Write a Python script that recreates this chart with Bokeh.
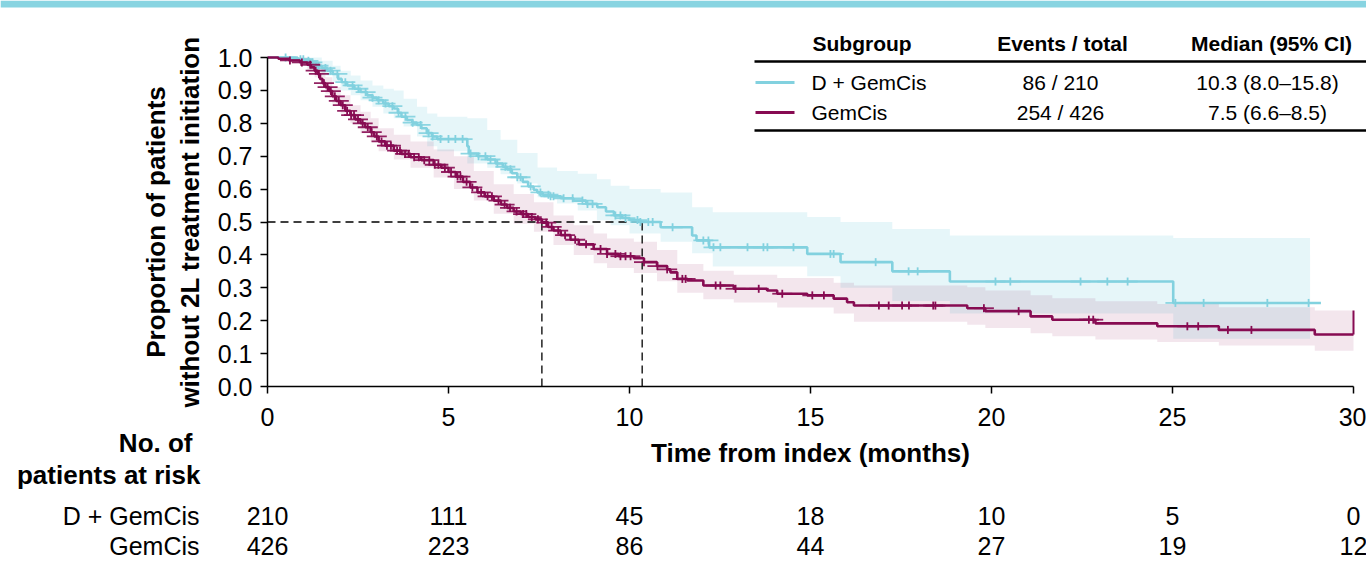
import numpy as np
from bokeh.plotting import figure
from bokeh.models import (Range1d, FixedTicker, Label, LabelSet, ColumnDataSource,
                          BoxAnnotation, PrintfTickFormatter)
from bokeh.core.properties import value
from bokeh.embed import file_html
from bokeh.resources import INLINE

# ------------------------------------------------------------------ data
groups = ["D + GemCis", "GemCis"]
events_total = ["86 / 210", "254 / 426"]
median_ci = ["10.3 (8.0\u201315.8)", "7.5 (6.6\u20138.5)"]
median_months = [10.35, 7.58]          # where the dashed median guides are drawn

# D + GemCis Kaplan-Meier steps (months, proportion)
dg_t = [0, 0.83, 1.0, 1.2, 1.35, 1.5, 1.65, 1.8, 1.95, 2.05, 2.2, 2.4, 2.57, 2.75, 2.9,
        3.03, 3.2, 3.35, 3.49, 3.6, 3.7, 3.85, 4.0, 4.13, 4.25, 4.4, 4.55, 4.69, 5.52,
        5.56, 5.8, 6.07, 6.3, 6.5, 6.62, 6.75, 6.9, 7.05, 7.2, 7.35, 7.45, 7.6, 7.82,
        8.1, 8.45, 8.8, 9.11, 9.35, 9.57, 9.8, 10.0, 10.3, 10.86, 11.73, 11.85, 12.2,
        14.91, 15.83, 17.26, 18.85, 25.02, 29.1]
dg_s = [1.0, 0.995, 0.99, 0.985, 0.975, 0.968, 0.96, 0.95, 0.935, 0.925, 0.915, 0.905,
        0.895, 0.885, 0.878, 0.87, 0.86, 0.852, 0.845, 0.832, 0.82, 0.81, 0.802, 0.795,
        0.785, 0.77, 0.76, 0.752, 0.73, 0.708, 0.7, 0.69, 0.678, 0.668, 0.66, 0.648,
        0.636, 0.622, 0.608, 0.598, 0.59, 0.583, 0.578, 0.572, 0.565, 0.555, 0.545,
        0.532, 0.52, 0.512, 0.506, 0.5, 0.484, 0.459, 0.444, 0.423, 0.403, 0.378, 0.35,
        0.319, 0.254, 0.254]
dg_ci_t = [0, 0.83, 1.2, 1.5, 1.8, 2.02, 2.3, 2.57, 2.9, 3.2, 3.49, 3.76, 4.13, 4.41,
           4.69, 5.52, 6.07, 6.44, 6.9, 7.46, 8.0, 8.57, 9.1, 9.48, 10.0, 10.86, 11.73,
           12.3, 14.91, 15.83, 17.26, 18.85, 25.02, 28.8]
dg_ci_lo = [1.0, 0.985, 0.965, 0.945, 0.925, 0.9, 0.885, 0.87, 0.85, 0.83, 0.815, 0.79,
            0.76, 0.73, 0.715, 0.678, 0.665, 0.645, 0.617, 0.575, 0.556, 0.535, 0.505,
            0.49, 0.465, 0.44, 0.405, 0.365, 0.335, 0.30, 0.26, 0.222, 0.145, 0.145]
dg_ci_hi = [1.0, 1.0, 1.0, 0.99, 0.975, 0.96, 0.945, 0.93, 0.915, 0.905, 0.90, 0.875,
            0.85, 0.83, 0.82, 0.815, 0.78, 0.75, 0.71, 0.666, 0.655, 0.647, 0.63, 0.61,
            0.60, 0.59, 0.545, 0.53, 0.515, 0.50, 0.479, 0.459, 0.451, 0.451]
dg_cens = [0.50, 0.91, 0.99, 1.13, 1.24, 1.41, 1.60, 1.74, 1.93, 2.15, 2.35, 2.51, 2.71,
           2.90, 3.07, 3.26, 3.45, 3.62, 3.81, 4.01, 4.23, 4.45, 4.56, 4.78, 5.00, 5.19,
           5.39, 5.61, 5.83, 6.02, 6.16, 6.35, 6.57, 6.71, 6.90, 6.99, 7.27, 7.54, 7.76,
           7.82, 7.90, 8.18, 8.43, 8.70, 8.84, 8.98, 9.61, 9.75, 9.89, 10.22, 10.30,
           10.52, 10.64, 11.19, 12.04, 12.18, 12.32, 12.51, 13.26, 13.70, 13.81, 14.53,
           15.55, 15.64, 16.80, 17.71, 17.96, 20.11, 20.52, 22.46, 23.20, 23.76, 25.08,
           25.86, 27.62, 28.76]

# GemCis Kaplan-Meier steps
gc_t = [0, 0.3, 0.6, 0.9, 1.1, 1.2, 1.3, 1.38, 1.45, 1.52, 1.6, 1.7, 1.79, 1.9, 2.02,
        2.15, 2.29, 2.42, 2.57, 2.7, 2.85, 2.95, 3.07, 3.25, 3.49, 3.7, 3.95, 4.25, 4.59,
        4.8, 5.0, 5.2, 5.4, 5.6, 5.8, 6.0, 6.25, 6.45, 6.62, 6.8, 7.0, 7.2, 7.4, 7.58,
        7.75, 7.9, 8.1, 8.37, 8.6, 9.01, 9.38, 9.7, 10.12, 10.4, 10.76, 11.04, 11.13,
        11.32, 11.6, 12.04, 12.88, 13.8, 14.08, 14.91, 15.64, 16.01, 16.2, 19.33, 19.83,
        21.08, 21.68, 22.87, 24.58, 26.28, 28.93, 30.0]
gc_s = [1.0, 0.996, 0.991, 0.985, 0.978, 0.97, 0.96, 0.95, 0.935, 0.922, 0.91, 0.898,
        0.882, 0.868, 0.855, 0.838, 0.825, 0.812, 0.8, 0.788, 0.773, 0.76, 0.745, 0.732,
        0.717, 0.707, 0.697, 0.688, 0.674, 0.665, 0.652, 0.638, 0.622, 0.605, 0.59,
        0.578, 0.565, 0.553, 0.543, 0.532, 0.524, 0.515, 0.508, 0.498, 0.485, 0.474,
        0.46, 0.446, 0.432, 0.418, 0.403, 0.396, 0.39, 0.378, 0.366, 0.356, 0.347,
        0.327, 0.322, 0.307, 0.297, 0.292, 0.282, 0.277, 0.267, 0.256, 0.246, 0.238,
        0.229, 0.213, 0.203, 0.192, 0.183, 0.172, 0.158, 0.158]
gc_ci_t = [0, 0.6, 1.1, 1.3, 1.45, 1.6, 1.79, 2.02, 2.29, 2.57, 2.85, 3.07, 3.49, 3.95,
           4.59, 5.15, 5.7, 6.25, 6.8, 7.36, 7.9, 8.46, 9.01, 9.38, 10.12, 10.76, 11.32,
           12.04, 12.88, 14.08, 15.64, 16.2, 19.33, 19.83, 21.08, 21.68, 22.87, 24.58,
           26.28, 28.93, 30.0]
gc_ci_lo = [1.0, 0.982, 0.962, 0.94, 0.915, 0.89, 0.86, 0.83, 0.80, 0.77, 0.745, 0.715,
            0.69, 0.665, 0.635, 0.60, 0.565, 0.525, 0.495, 0.47, 0.43, 0.40, 0.375,
            0.36, 0.345, 0.32, 0.285, 0.265, 0.255, 0.24, 0.222, 0.197, 0.188, 0.178,
            0.162, 0.153, 0.143, 0.135, 0.125, 0.109, 0.109]
gc_ci_hi = [1.0, 1.0, 0.992, 0.98, 0.965, 0.94, 0.91, 0.885, 0.855, 0.835, 0.815, 0.785,
            0.765, 0.745, 0.72, 0.70, 0.655, 0.615, 0.585, 0.56, 0.52, 0.49, 0.465,
            0.45, 0.44, 0.415, 0.372, 0.352, 0.34, 0.33, 0.315, 0.307, 0.302, 0.292,
            0.277, 0.268, 0.259, 0.251, 0.241, 0.231, 0.231]
gc_cens = [0.62, 0.95, 1.18, 1.33, 1.42, 1.56, 1.66, 1.75, 1.86, 1.97, 2.08, 2.2, 2.31,
           2.39, 2.5, 2.63, 2.77, 2.88, 3.02, 3.15, 3.3, 3.41, 3.58, 3.66, 3.8, 3.9,
           4.05, 4.18, 4.33, 4.47, 4.62, 4.72, 4.9, 5.07, 5.25, 5.33, 5.5, 5.66, 5.9,
           6.08, 6.2, 6.38, 6.55, 6.7, 6.88, 7.06, 7.15, 7.3, 7.47, 7.7, 7.85, 8.03,
           8.22, 8.5, 8.8, 9.2, 9.38, 9.61, 9.75, 9.89, 10.03, 10.4, 10.77, 11.04, 11.46,
           11.55, 12.38, 12.51, 12.93, 13.57, 14.22, 15.05, 15.37, 16.89, 17.16, 17.53,
           17.72, 18.39, 18.45, 19.79, 20.75, 22.69, 22.81, 25.41, 25.71, 26.53, 27.18]
gc_end_t = [30.0]
gc_end_lo = [0.158]
gc_end_hi = [0.231]

x_ticks = [0, 5, 10, 15, 20, 25, 30]
y_ticks = [0.0, 0.1, 0.2, 0.3, 0.4, 0.5, 0.6, 0.7, 0.8, 0.9, 1.0]
risk_months = [0, 5, 10, 15, 20, 25, 30]
risk_dg = [210, 111, 45, 18, 10, 5, 0]
risk_gc = [426, 223, 86, 44, 27, 19, 12]

# ------------------------------------------------------------------ style / layout
CYAN = "#82D1DF"
STRIPE = "#88D4E1"
MAROON = "#870B52"
FONT = "Liberation Sans"

W, H = 1366, 561
X0, PXM = 267, 36.2          # page x of month 0, pixels per month
Y0, PXU = 386, 329.0         # page y of proportion 0, pixels per unit


def dx(px):
    return (px - X0) / PXM


def dy(py):
    return (Y0 - py) / PXU


# the frame covers the whole canvas; axes are pinned at 0 with fixed_location
p = figure(width=W, height=H, output_backend="svg", toolbar_location=None,
           x_range=Range1d(dx(0), dx(W)), y_range=Range1d(dy(H), dy(0)),
           min_border=0, background_fill_color="white", border_fill_color="white")
p.outline_line_color = None
p.xgrid.visible = False
p.ygrid.visible = False

# axes
p.xaxis.ticker = FixedTicker(ticks=x_ticks)
p.xaxis.bounds = (0, 30)
p.xaxis.fixed_location = 0
p.yaxis.ticker = FixedTicker(ticks=y_ticks)
p.yaxis.bounds = (0, 1)
p.yaxis.fixed_location = 0
p.yaxis.formatter = PrintfTickFormatter(format="%.1f")
for ax in (p.xaxis, p.yaxis):
    ax.axis_line_width = 1.5
    ax.axis_line_color = "black"
    ax.major_tick_line_width = 1.5
    ax.major_tick_line_color = "black"
    ax.major_tick_out = 7
    ax.major_tick_in = 0
    ax.minor_tick_line_color = None
    ax.major_label_text_font = FONT
    ax.major_label_text_font_size = "25px"
    ax.major_label_text_color = "black"
    ax.axis_label_text_font = FONT
    ax.axis_label_text_font_size = "26px"
    ax.axis_label_text_font_style = "bold"
    ax.axis_label_text_color = "black"
p.xaxis.axis_label = "Time from index (months)"
p.xaxis.major_label_standoff = 14
p.xaxis.axis_label_standoff = 9
p.yaxis.axis_label = "Proportion of patients\nwithout 2L treatment initiation"
p.yaxis.major_label_standoff = 8
p.yaxis.axis_label_standoff = 10
p.yaxis.axis_label_text_line_height = 1.12

# confidence bands
p.varea_step(x=dg_ci_t, y1=dg_ci_lo, y2=dg_ci_hi, step_mode="after",
             fill_color=CYAN, fill_alpha=0.2)
p.varea_step(x=gc_ci_t, y1=gc_ci_lo, y2=gc_ci_hi, step_mode="after",
             fill_color=MAROON, fill_alpha=0.1)

# median guides
m_hi, m_lo = max(median_months), min(median_months)
p.segment(x0=[0, m_lo, m_hi], y0=[0.5, 0, 0], x1=[m_hi, m_lo, m_hi], y1=[0.5, 0.5, 0.5],
          line_color="black", line_width=1.3, line_dash="8 5")


def at(times, surv, xs):
    idx = np.searchsorted(np.asarray(times), np.asarray(xs), side="right") - 1
    return list(np.asarray(surv)[idx])


# curves
for t, s, cens, col in ((dg_t, dg_s, dg_cens, CYAN), (gc_t, gc_s, gc_cens, MAROON)):
    p.step(t, s, mode="after", line_color=col, line_width=2.6)
    cy = at(t, s, cens)
    p.scatter(cens, cy, marker="dash", size=20, line_color=col, line_width=1.8,
              line_alpha=0.9)
    p.scatter(cens, cy, marker="dash", size=8, angle=np.pi / 2, line_color=col,
              line_width=1.8)
p.segment(x0=gc_end_t, y0=gc_end_lo, x1=gc_end_t, y1=gc_end_hi, line_color=MAROON,
          line_width=2)

# top stripe
p.add_layout(BoxAnnotation(left=dx(0), right=dx(W), top=dy(0), bottom=dy(7),
                           fill_color=STRIPE, fill_alpha=1, line_color=None))

# summary table
p.add_layout(BoxAnnotation(left=dx(754), right=dx(W), top=dy(59.8), bottom=dy(62.2),
                           fill_color="black", fill_alpha=1, line_color=None))
p.add_layout(BoxAnnotation(left=dx(754), right=dx(W), top=dy(128.8), bottom=dy(131.2),
                           fill_color="black", fill_alpha=1, line_color=None))


def lab(x, y, text, align="left", size="21px", style="normal"):
    p.add_layout(Label(x=dx(x), y=dy(y), text=text, text_align=align,
                       text_baseline="middle", text_font=FONT, text_font_size=size,
                       text_font_style=style, text_color="black"))


lab(812, 43, "Subgroup", style="bold")
lab(1062, 43, "Events / total", align="center", style="bold")
lab(1271, 43, "Median (95% CI)", align="center", style="bold")
row_y = [82, 112]
for i, (g, col) in enumerate(zip(groups, (CYAN, MAROON))):
    p.add_layout(BoxAnnotation(left=dx(755), right=dx(794), top=dy(row_y[i] - 1.5),
                               bottom=dy(row_y[i] + 1.5), fill_color=col, fill_alpha=1,
                               line_color=None))
    lab(811, row_y[i], g)
    lab(1060, row_y[i], events_total[i], align="center")
    lab(1267, row_y[i], median_ci[i], align="center")

# numbers at risk
lab(192, 442, "No. of", align="right", size="26px", style="bold")
lab(200, 474, "patients at risk", align="right", size="26px", style="bold")
for g, vals, yy in ((groups[0], risk_dg, 515), (groups[1], risk_gc, 545)):
    lab(199, yy, g, align="right", size="25px")
    src = ColumnDataSource(dict(x=risk_months, y=[dy(yy)] * len(risk_months),
                                t=[str(v) for v in vals]))
    p.add_layout(LabelSet(x="x", y="y", text="t", source=src, text_align="center",
                          text_baseline="middle", text_font=value(FONT),
                          text_font_size=value("25px"), text_color="black"))

open("out.html", "w").write(file_html(p, INLINE))
